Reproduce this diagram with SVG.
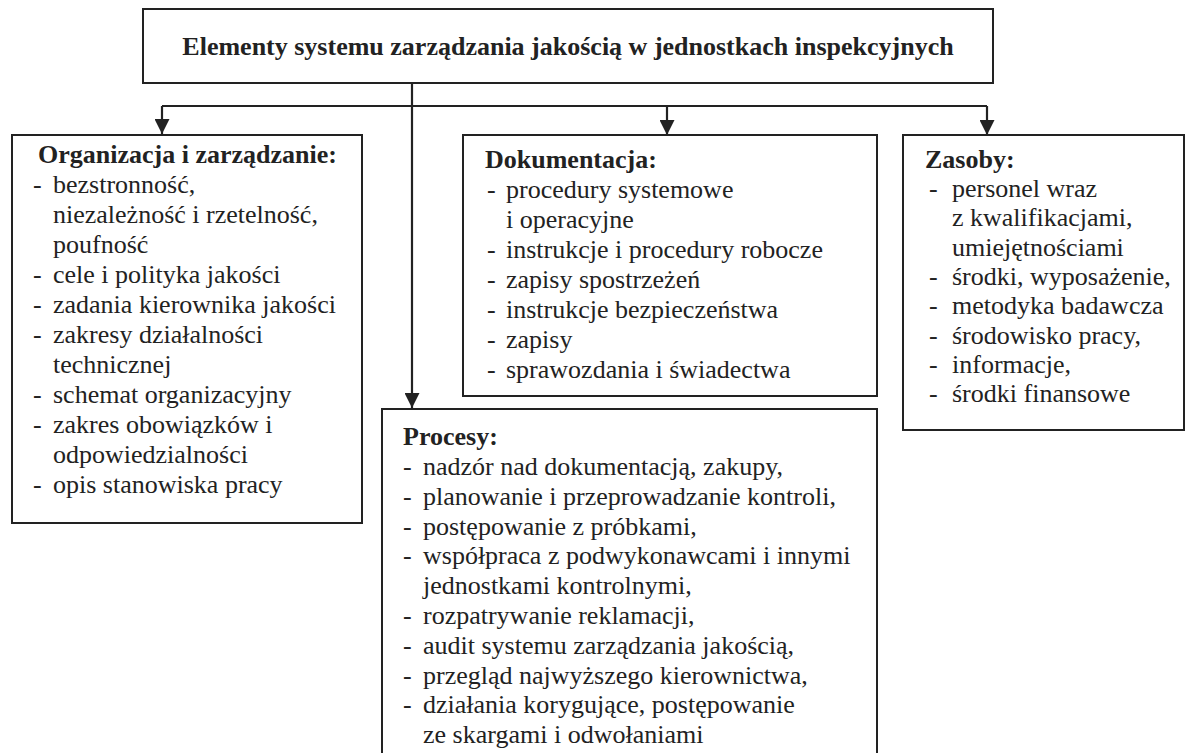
<svg xmlns="http://www.w3.org/2000/svg" width="1187" height="753" viewBox="0 0 1187 753">
<style>
.box{fill:#fff;stroke:#222;stroke-width:2}
.ln{fill:none;stroke:#222;stroke-width:2.2}
text{font-family:"Liberation Serif","Times New Roman",serif;font-size:26px;fill:#222}
.b{font-weight:bold}
</style>
<defs>
<marker id="ah" markerWidth="15" markerHeight="15" refX="15" refY="7.5" orient="auto" markerUnits="userSpaceOnUse">
<path d="M0,0 L15,7.5 L0,15 Z" fill="#222"/>
</marker>
</defs>
<rect width="1187" height="753" fill="#fff"/>
<g id="connectors">
<path class="ln" d="M412,83 V408" marker-end="url(#ah)"/>
<path class="ln" d="M162,106 H987"/>
<path class="ln" d="M162,106 V134" marker-end="url(#ah)"/>
<path class="ln" d="M667,106 V135" marker-end="url(#ah)"/>
<path class="ln" d="M987,106 V135" marker-end="url(#ah)"/>
</g>
<g id="top">
<rect class="box" x="143" y="9" width="850" height="74"/>
<text class="b" x="568" y="55" text-anchor="middle">Elementy systemu zarządzania jakością w jednostkach inspekcyjnych</text>
</g>
<g id="organizacja">
<rect class="box" x="12" y="135" width="350" height="388"/>
<text class="b" x="38" y="163">Organizacja i zarządzanie:</text>
<text x="33" y="193">-</text><text x="53" y="193">bezstronność,</text>
<text x="53" y="223">niezależność i rzetelność,</text>
<text x="53" y="253">poufność</text>
<text x="33" y="283">-</text><text x="53" y="283">cele i polityka jakości</text>
<text x="33" y="313">-</text><text x="53" y="313">zadania kierownika jakości</text>
<text x="33" y="343">-</text><text x="53" y="343">zakresy działalności</text>
<text x="53" y="373">technicznej</text>
<text x="33" y="403">-</text><text x="53" y="403">schemat organizacyjny</text>
<text x="33" y="433">-</text><text x="53" y="433">zakres obowiązków i</text>
<text x="53" y="463">odpowiedzialności</text>
<text x="33" y="493">-</text><text x="53" y="493">opis stanowiska pracy</text>
</g>
<g id="dokumentacja">
<rect class="box" x="463" y="135" width="414" height="261"/>
<text class="b" x="485" y="168">Dokumentacja:</text>
<text x="487" y="198">-</text><text x="506" y="198">procedury systemowe</text>
<text x="506" y="228">i operacyjne</text>
<text x="487" y="258">-</text><text x="506" y="258">instrukcje i procedury robocze</text>
<text x="487" y="288">-</text><text x="506" y="288">zapisy spostrzeżeń</text>
<text x="487" y="318">-</text><text x="506" y="318">instrukcje bezpieczeństwa</text>
<text x="487" y="348">-</text><text x="506" y="348">zapisy</text>
<text x="487" y="378">-</text><text x="506" y="378">sprawozdania i świadectwa</text>
</g>
<g id="zasoby">
<rect class="box" x="903" y="135" width="281" height="295"/>
<text class="b" x="925" y="168">Zasoby:</text>
<text x="929" y="197">-</text><text x="952" y="197">personel wraz</text>
<text x="952" y="226">z kwalifikacjami,</text>
<text x="952" y="256">umiejętnościami</text>
<text x="929" y="285">-</text><text x="952" y="285">środki, wyposażenie,</text>
<text x="929" y="314">-</text><text x="952" y="314">metodyka badawcza</text>
<text x="929" y="344">-</text><text x="952" y="344">środowisko pracy,</text>
<text x="929" y="373">-</text><text x="952" y="373">informacje,</text>
<text x="929" y="402">-</text><text x="952" y="402">środki finansowe</text>
</g>
<g id="procesy">
<rect class="box" x="382" y="409" width="495" height="360"/>
<text class="b" x="403" y="445">Procesy:</text>
<text x="403" y="475">-</text><text x="423" y="475">nadzór nad dokumentacją, zakupy,</text>
<text x="403" y="505">-</text><text x="423" y="505">planowanie i przeprowadzanie kontroli,</text>
<text x="403" y="535">-</text><text x="423" y="535">postępowanie z próbkami,</text>
<text x="403" y="564">-</text><text x="423" y="564">współpraca z podwykonawcami i innymi</text>
<text x="423" y="594">jednostkami kontrolnymi,</text>
<text x="403" y="624">-</text><text x="423" y="624">rozpatrywanie reklamacji,</text>
<text x="403" y="654">-</text><text x="423" y="654">audit systemu zarządzania jakością,</text>
<text x="403" y="684">-</text><text x="423" y="684">przegląd najwyższego kierownictwa,</text>
<text x="403" y="713">-</text><text x="423" y="713">działania korygujące, postępowanie</text>
<text x="423" y="743">ze skargami i odwołaniami</text>
</g>
</svg>
